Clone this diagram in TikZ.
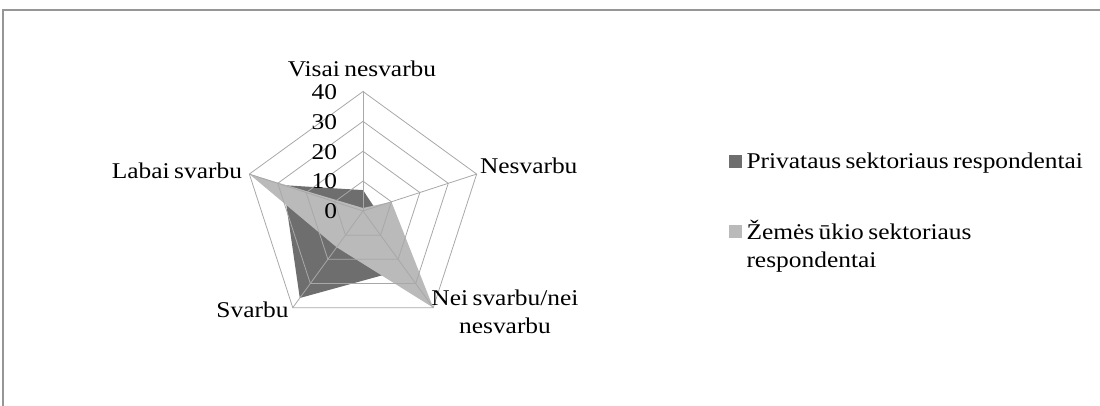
\documentclass[tikz,border=0pt]{standalone}
\usepackage{fontspec}
\setmainfont{Liberation Serif}[FakeStretch=1.13,WordSpace=0.7]
\usetikzlibrary{calc}
\definecolor{darkser}{RGB}{110,110,110}
\definecolor{lightser}{RGB}{186,186,186}
\definecolor{gridc}{RGB}{168,168,168}
\definecolor{framec}{RGB}{150,150,150}
\begin{document}
\begin{tikzpicture}[x=1pt,y=-1pt,
  lbl/.style={inner sep=0pt,outer sep=0pt,font=\fontsize{22.5}{28}\selectfont},
  gridline/.style={draw=gridc,line width=0.8pt},
  legbox/.style={inner sep=0pt,minimum size=13pt}]
\useasboundingbox (0,0) rectangle (1100,406);
% frame (cropped)
\draw[framec,line width=2pt] (3,406) -- (3,10.3) -- (1100,10.3);
\coordinate (C) at (363,211);
\def\R{119.5}
% axis end points
\foreach \n/\a in {V/90,N/18,E/-54,S/-126,L/162}{
  \path (C) ++(-\a:\R) coordinate (\n);
}
% series 1 (dark): V 7, N 4, E 24, S 36, L 28
\fill[darkser] ($(C)+(-90:7*2.9875)$) -- ($(C)+(-18:4*2.9875)$) -- ($(C)+(54:24*2.9875)$)
  -- ($(C)+(126:36*2.9875)$) -- ($(C)+(-162:28*2.9875)$) -- cycle;
% series 2 (light): V 1, N 10, E 40, S 15, L 40
\fill[lightser] ($(C)+(-90:1*2.9875)$) -- ($(C)+(-18:10*2.9875)$) -- ($(C)+(54:40*2.9875)$)
  -- ($(C)+(126:15*2.9875)$) -- ($(C)+(-162:40*2.9875)$) -- cycle;
% grid
\foreach \k in {1,2,3,4}{
  \draw[gridline,line join=miter] ($(C)+(-90:\k*29.875)$) -- ($(C)+(-18:\k*29.875)$) -- ($(C)+(54:\k*29.875)$)
    -- ($(C)+(126:\k*29.875)$) -- ($(C)+(-162:\k*29.875)$) -- cycle;
}
\foreach \n in {V,N,E,S,L}{ \draw[gridline] (C) -- (\n); }
% tick labels
\node[lbl,anchor=east] (t0) at (337,211.5) {0};
\node[lbl,anchor=east] (t10) at (337,181.6) {10};
\node[lbl,anchor=east] (t20) at (337,151.8) {20};
\node[lbl,anchor=east] (t30) at (337,121.9) {30};
\node[lbl,anchor=east] (t40) at (337,92) {40};
% category labels
\node[lbl,anchor=base] (lv) at (362,77) {Visai nesvarbu};
\node[lbl,anchor=base west] (ln) at (480,174) {Nesvarbu};
\node[lbl,anchor=base east] (ll) at (242,179) {Labai svarbu};
\node[lbl,anchor=base east] (ls) at (288.5,317) {Svarbu};
\node[lbl,anchor=base,align=center] (le) at (505,333) {Nei svarbu/nei\\nesvarbu};
% legend
\node[legbox,fill=darkser] (k1) at (735.5,161.5) {};
\node[lbl,anchor=base west] (g1) at (746.5,169) {Privataus sektoriaus respondentai};
\node[legbox,fill=lightser] (k2) at (735.5,231.5) {};
\node[lbl,anchor=base west,align=left] (g2) at (746.5,267) {Žemės ūkio sektoriaus\\respondentai};
\end{tikzpicture}
\end{document}
